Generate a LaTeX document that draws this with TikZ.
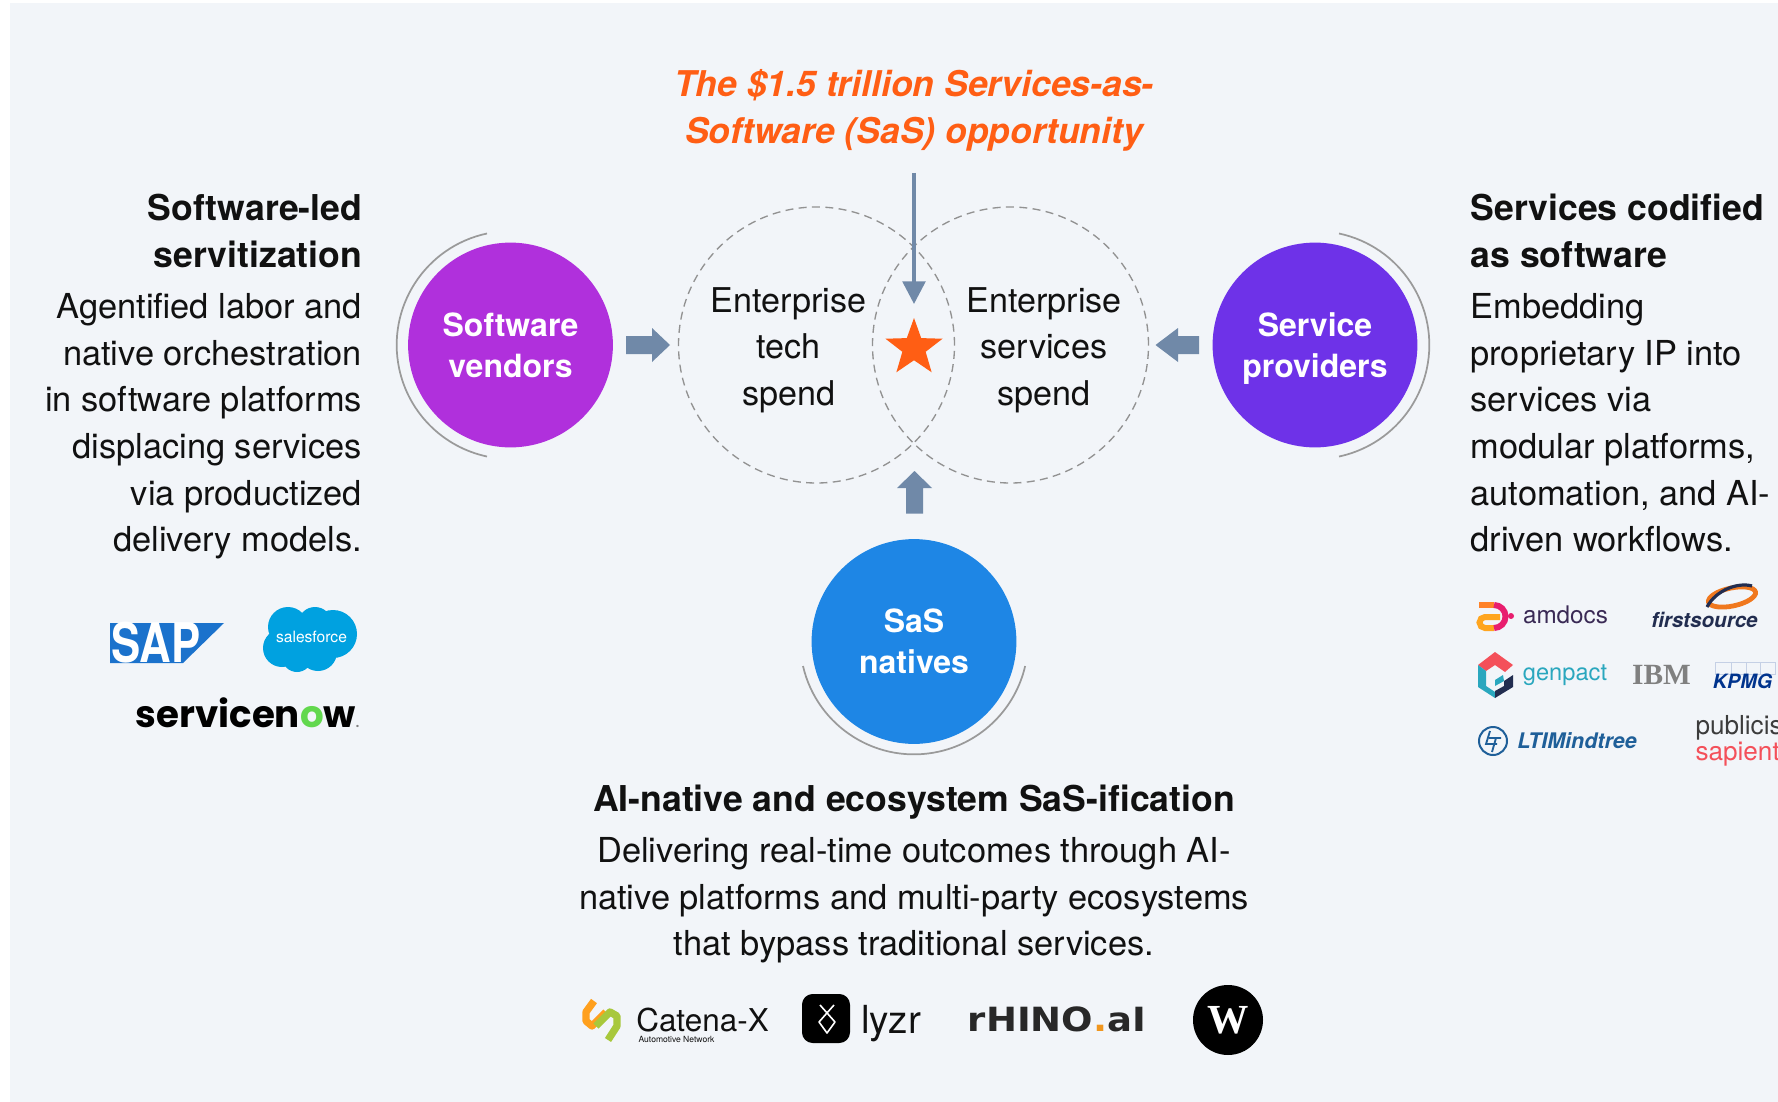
\documentclass[tikz,border=0pt]{standalone}
\usepackage{fontspec}
\setmainfont{TeX Gyre Heros}
\newfontfamily\logofont{Poppins}
\newfontfamily\slabfont{Liberation Serif}
\newfontfamily\widefont{DejaVu Sans}
\usetikzlibrary{shapes.geometric,arrows.meta}

\definecolor{panelbg}{RGB}{242,245,249}
\definecolor{arrowblue}{RGB}{112,137,168}
\definecolor{hotorange}{RGB}{255,94,20}
\definecolor{inkblack}{RGB}{17,17,17}
\definecolor{vendorpurple}{RGB}{176,48,220}
\definecolor{providerviolet}{RGB}{110,50,232}
\definecolor{nativeblue}{RGB}{30,134,229}
\definecolor{ltiblue}{RGB}{31,95,153}
\definecolor{genteal}{RGB}{42,167,190}
\definecolor{gencoral}{RGB}{244,80,90}
\definecolor{gennavy}{RGB}{34,45,80}
\definecolor{halogray}{RGB}{154,154,154}
\definecolor{venngray}{RGB}{146,146,146}
\definecolor{sapblue}{RGB}{27,114,204}
\definecolor{sfblue}{RGB}{0,161,224}
\definecolor{snowgreen}{RGB}{98,216,78}
\definecolor{amdyellow}{RGB}{255,165,31}
\definecolor{amdorange}{RGB}{255,130,40}
\definecolor{amdpink}{RGB}{232,30,110}
\definecolor{amdink}{RGB}{58,42,85}
\definecolor{firstorange}{RGB}{240,120,30}
\definecolor{kpmgnavy}{RGB}{0,51,141}
\definecolor{kpmgbox}{RGB}{197,208,229}
\definecolor{pubgray}{RGB}{60,60,60}
\definecolor{catorange}{RGB}{255,160,30}
\definecolor{catgreen}{RGB}{168,200,60}
\definecolor{rhinoink}{RGB}{40,40,40}
\definecolor{rhinodot}{RGB}{240,150,30}

\tikzset{every picture/.style={line width=0.75pt}}
\tikzset{
  bubble/.style={circle,inner sep=0pt,minimum size=153.6pt,text=white,align=center,
    font=\fontsize{24}{30.8}\selectfont\bfseries},
  haloarc/.style={draw=halogray,line width=1.3pt},
  venn/.style={circle,draw=venngray,inner sep=0pt,minimum size=207pt,
    dash pattern={on 6pt off 4pt},line width=1pt},
  vennlabel/.style={inner sep=0pt,align=center,text=inkblack,font=\fontsize{25.6}{35}\selectfont},
  headtext/.style={inner sep=0pt,text=inkblack,font=\fontsize{26.7}{35}\selectfont\bfseries},
  bodytext/.style={inner sep=0pt,text=inkblack,font=\fontsize{25.8}{35}\selectfont},
  blockarrow/.style={fill=arrowblue},
  logotext/.style={inner sep=0pt},
}

\begin{document}
\begin{tikzpicture}[x=0.75pt,y=0.75pt,yscale=-1,xscale=1]
    \useasboundingbox (0,0) rectangle (1778,1102);
    % Panel
    \fill [panelbg] (10,3) rectangle (1778,1102);

    % Title
    \node (sastitle) at (914,110.4) [inner sep=0pt,align=center,text=hotorange,font=\fontsize{26.6}{35}\selectfont\bfseries\itshape] {The \$1.5 trillion Services-as-\\Software (SaS) opportunity};

    % Venn circles
    \node (techcircle) at (816.5,345) [venn] {};
    \node (servcircle) at (1010.5,345) [venn] {};
    \node (techlabel) at (788.5,350) [vennlabel] {Enterprise\\tech\\spend};
    \node (servlabel) at (1044,350) [vennlabel] {Enterprise\\services\\spend};
    \node (sasstar) at (914,348) [star,star points=5,star point ratio=2.45,fill=hotorange,inner sep=0pt,minimum size=45pt] {};

    % Down arrow
    \coordinate (titlefoot) at (914,173);
    \coordinate (startop) at (914,304);
    \draw [arrowblue,line width=2.7pt,-{Triangle[length=17pt,width=17pt]}] (titlefoot) -- (startop);

    % Bubbles
    \node (softvendors) at (510.5,345) [bubble,fill=vendorpurple] {Software\\vendors};
    \node (servproviders) at (1315,345) [bubble,fill=providerviolet] {Service\\\smash{providers}};
    \node (sasnatives) at (914,641.5) [bubble,fill=nativeblue] {SaS\\natives};

    %Shape: Arc
    \draw [haloarc] (487,233.5) arc [start angle=258,end angle=102,radius=114];
    \draw [haloarc] (1339,233.5) arc [start angle=-78,end angle=78,radius=114];
    \draw [haloarc] (803,666) arc [start angle=167,end angle=13,radius=114];

    % Block arrows
    \fill [blockarrow] (626,336) -- (652,336) -- (652,328) -- (670,345) -- (652,362) -- (652,354) -- (626,354) -- cycle;
    \fill [blockarrow] (1199,336) -- (1178,336) -- (1178,328) -- (1155.5,345) -- (1178,362) -- (1178,354) -- (1199,354) -- cycle;
    \fill [blockarrow] (906,513.5) -- (906,488) -- (897,488) -- (914.5,471) -- (932,488) -- (923,488) -- (923,513.5) -- cycle;

    % Text Node
    \node (softhead) at (362.6,231) [anchor=east,align=right,headtext] {Software-led\\servitization};
    \node (softbody) at (362.6,426.4) [anchor=east,align=right,bodytext] {Agentified labor and\\native orchestration\\in software platforms\\displacing services\\via productized\\delivery models.};
    % Text Node
    \node (servhead) at (1470,231) [anchor=west,align=left,headtext] {Services codified\\as software};
    \node (servbody) at (1470,423) [anchor=west,align=left,bodytext] {Embedding\\proprietary IP into\\services via\\modular platforms,\\automation, and AI-\\driven workflows.};
    % Text Node
    \node (nativehead) at (914,802.4) [align=center,headtext] {AI-native and ecosystem SaS-ification};
    \node (nativebody) at (914,900.4) [align=center,bodytext] {Delivering real-time outcomes through AI-\\native platforms and multi-party ecosystems\\that bypass traditional services.};

    % Logo SAP
    \fill [sapblue] (110,623) -- (224,623) -- (183,663) -- (110,663) -- cycle;
    \node (saplogo) at (156,643) [logotext,text=white,font=\fontsize{41}{41}\selectfont\bfseries] {\scalebox{0.8}[1]{SAP}};

    % Logo salesforce
    \fill [sfblue] (288,627) circle (20) (315,624) circle (17) (333,634) circle (24) (282,648) circle (19) (297,657) circle (15) (318,652) circle (19);
    \node (sflogo) at (311.5,637) [logotext,text=white,font=\fontsize{11.7}{12}\selectfont] {salesforce};

    % Logo servicenow
    \node (snowlogo) at (247.5,713) [logotext,text=black,font=\logofont\fontsize{27.9}{28}\selectfont\bfseries] {servicen\textcolor{snowgreen}{o}w\textcolor{gray}{\fontsize{9}{9}\selectfont.}};

    % Logo amdocs
    \draw [amdyellow,line width=4.5pt] (1500,617) -- (1485,617) arc [start angle=-90,end angle=-270,radius=5.5] -- (1494,628);
    \draw [amdorange,line width=4.5pt] (1479,605) -- (1494,605);
    \draw [amdpink,line width=4.5pt] (1494,605) arc [start angle=-90,end angle=90,radius=11.5];
    \fill [amdpink] (1511,616) circle (3);
    \node (amdocslogo) at (1565.5,615) [logotext,text=amdink,font=\fontsize{18.2}{18}\selectfont] {amdocs};

    % Logo firstsource
    \draw [firstorange,line width=3.6pt,rotate around={-12:(1732,597)}] (1732,597) ellipse (24 and 9);
    \draw [gennavy,line width=2.4pt] (1707,607) .. controls (1716,590) and (1738,582) .. (1752,586);
    \node (firstlogo) at (1704.5,620) [logotext,text=gennavy,font=\fontsize{15.5}{16}\selectfont\bfseries\itshape] {firstsource};

    % Logo genpact
    \fill [gencoral] (1478,665) -- (1495,652) -- (1513,665) -- (1505,672) -- (1495,665) -- (1486,671) -- cycle;
    \fill [genteal] (1478,665) -- (1486,671) -- (1486,686) -- (1495,692) -- (1495,698) -- (1478,687) -- cycle;
    \fill [genteal] (1495,680) -- (1503,675) -- (1504,681) -- (1495,686) -- cycle;
    \fill [gennavy] (1495,698) -- (1513,687) -- (1513,675) -- (1504,681) -- (1504,686) -- (1495,691) -- cycle;
    \node (genpactlogo) at (1565,675) [logotext,text=genteal,font=\fontsize{17.7}{18}\selectfont] {genpact};

    % Logo IBM
    \node (ibmlogo) at (1661.5,675) [logotext,text=gray,font=\slabfont\fontsize{22}{22}\selectfont\bfseries] {IBM};

    % Logo KPMG
    \foreach \boxx/\boxw in {1715/16,1731/15,1746/14,1760/15}
      \draw [kpmgbox,line width=0.6pt] (\boxx,662) rectangle +(\boxw,12);
    \node (kpmglogo) at (1742.5,681) [logotext,text=kpmgnavy,font=\fontsize{14.8}{15}\selectfont\bfseries\itshape] {KPMG};

    % Logo LTIMindtree
    \draw [ltiblue,line width=1.5pt] (1493,741) circle (14);
    \draw [ltiblue,line width=1.4pt] (1490,731) -- (1486,744) -- (1497,744) (1489,738) -- (1501,738) (1496,738) -- (1492,752);
    \node (ltilogo) at (1577,741) [logotext,text=ltiblue,font=\fontsize{16.1}{16}\selectfont\bfseries\itshape] {LTIMindtree};

    % Logo publicis sapient
    \node (publogo) at (1695,741) [anchor=west,logotext,align=left,font=\fontsize{19.6}{17.2}\selectfont] {\textcolor{pubgray}{publicis}\\\textcolor{gencoral}{sapient}};

    % Logo Catena-X
    \draw [catorange,line width=5.5pt,line join=round] (594,1001) -- (586,1012) -- (586,1021) -- (592,1026) -- (606,1012);
    \draw [catgreen,line width=5.5pt,line join=round] (596,1026) -- (610,1012) -- (617,1016) -- (617,1026) -- (608,1040);
    \node (catenalogo) at (702.5,1020) [logotext,text=inkblack,font=\fontsize{23.6}{24}\selectfont] {Catena-X};
    \node (catenasub) at (676.5,1039) [logotext,text=inkblack,font=\fontsize{6.4}{7}\selectfont] {Automotive Network};

    % Logo lyzr
    \fill [black,rounded corners=8pt] (802,994) rectangle (850,1043);
    \draw [white,line width=1.2pt,line join=round] (820,1005) -- (835,1022) -- (827,1033) -- (819,1022) -- (834,1005);
    \node (lyzrlogo) at (891,1023.5) [logotext,text=inkblack,font=\fontsize{29}{29}\selectfont] {lyzr};

    % Logo rhino.ai
    \node (rhinologo) at (1057,1019.5) [logotext,text=rhinoink,font=\widefont\fontsize{25}{25}\selectfont\bfseries] {\scalebox{1.11}[1]{rHINO\textcolor{rhinodot}{.}aI}};

    % Logo W
    \node (wlogo) at (1228,1020) [circle,fill=black,inner sep=0pt,minimum size=52.5pt,text=white,font=\slabfont\fontsize{31}{31}\selectfont\bfseries] {W};
\end{tikzpicture}
\end{document}
